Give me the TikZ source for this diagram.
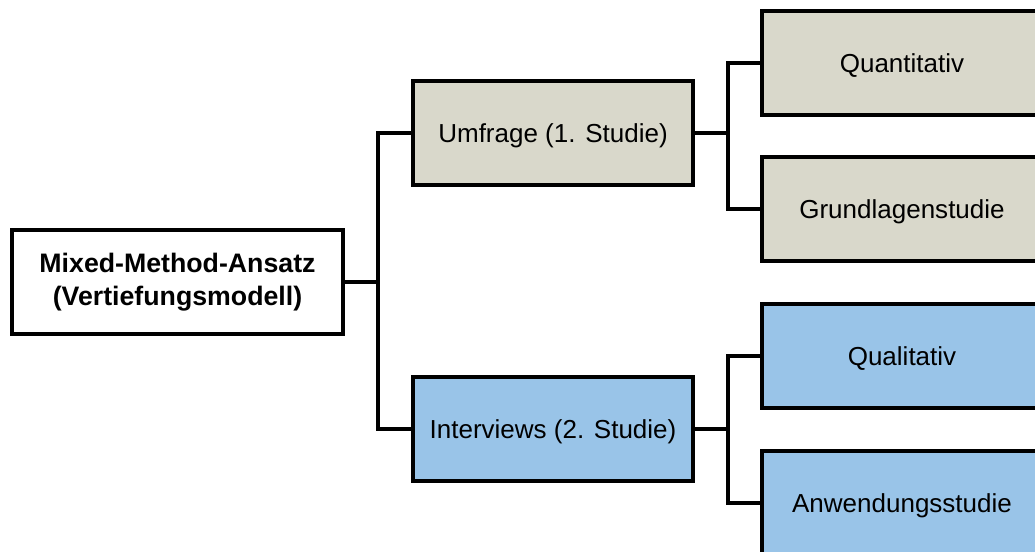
\documentclass[tikz,border=0pt]{standalone}
\usepackage{fontspec}
\setmainfont{Liberation Sans}
\definecolor{beige}{RGB}{217,216,203}
\definecolor{hellblau}{RGB}{153,196,232}

\begin{document}
\begin{tikzpicture}[x=0.025cm, y=-0.025cm,
    box/.style={draw, rectangle, line width=2.4pt, minimum width=7cm, minimum height=2.6cm,
      text height=15pt, text depth=1pt, font=\fontsize{18.5}{22}\selectfont},
    link/.style={line width=2.4pt}]
    \useasboundingbox (0,0) rectangle (1035,552);

    \node[box, minimum width=8.275cm, align=center, text height=, text depth=,
      font=\fontsize{19}{23.5}\selectfont\bfseries]
      (root) at (177.5,282) {Mixed-Method-Ansatz\\(Vertiefungsmodell)};
    \node[box, fill=beige] (umf) at (553,133) {Umfrage (1. Studie)};
    \node[box, fill=hellblau] (int) at (553,429) {Interviews (2. Studie)};
    \node[box, fill=beige] (quan) at (902,63) {Quantitativ};
    \node[box, fill=beige] (grund) at (902,209) {Grundlagenstudie};
    \node[box, fill=hellblau] (qual) at (902,356) {Qualitativ};
    \node[box, fill=hellblau] (anw) at (902,503) {Anwendungsstudie};

    \coordinate (j0) at (378,282);
    \coordinate (j1) at (728,133);
    \coordinate (j2) at (728,429);

    \draw[link] (root.east) -- (j0);
    \draw[link] (umf.west) -| (j0) |- (int.west);
    \draw[link] (umf.east) -- (j1);
    \draw[link] (quan.west) -| (j1) |- (grund.west);
    \draw[link] (int.east) -- (j2);
    \draw[link] (qual.west) -| (j2) |- (anw.west);
  \end{tikzpicture}
\end{document}
